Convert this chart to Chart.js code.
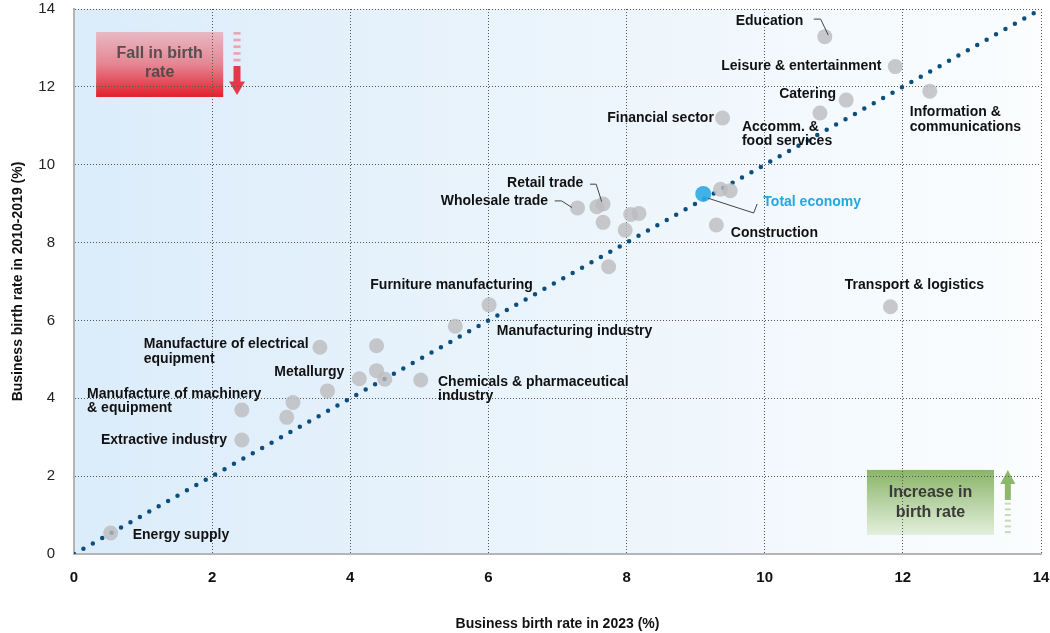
<!DOCTYPE html>
<html>
<head>
<meta charset="utf-8">
<script src="https://cdn.jsdelivr.net/npm/chart.js@4.4.0/dist/chart.umd.min.js"></script>
<style>
	html, body { margin: 0; padding: 0; background: #fff; }
</style>
</head>
<body>
<canvas id="myChart" width="1050" height="633"></canvas>
<script>
//Canvas setup
let myChart = document.getElementById('myChart').getContext('2d')
let fontFamily = '"Liberation Sans", Arial, sans-serif'

//ticks on both axes
let axisTicks = [0, 2, 4, 6, 8, 10, 12, 14]

//sectors: x = birth rate 2023 (%), y = birth rate 2010-2019 (%)
let sectorRate2023 = [0.53, 2.43, 2.43, 3.08, 3.17, 3.67, 3.56, 4.13, 4.38, 4.38, 4.50, 5.02, 5.52, 6.01, 7.74, 7.29, 7.57, 7.66, 7.66, 7.98, 8.06, 8.18, 9.36, 9.50, 9.30, 9.39, 10.87, 11.89, 11.18, 10.80, 12.39, 11.82]
let sectorRate2010 = [0.54, 2.93, 3.70, 3.51, 3.89, 4.19, 5.31, 4.50, 5.35, 4.71, 4.49, 4.47, 5.85, 6.40, 7.38, 8.89, 8.92, 8.99, 8.52, 8.32, 8.72, 8.75, 9.37, 9.33, 8.45, 11.20, 13.29, 12.52, 11.66, 11.33, 11.89, 6.35]

//the whole economy
let totalRate2023 = [9.11]
let totalRate2010 = [9.25]

//line of equal rates
let equalLine = [0, 14]

//label texts (\n = new line)
let labelTexts = [
	'Education', 'Leisure & entertainment', 'Catering', 'Financial sector',
	'Accomm. &\nfood services', 'Information &\ncommunications', 'Retail trade',
	'Wholesale trade', 'Total economy', 'Construction', 'Transport & logistics',
	'Furniture manufacturing', 'Manufacturing industry',
	'Manufacture of electrical\nequipment', 'Metallurgy',
	'Manufacture of machinery\n& equipment', 'Chemicals & pharmaceutical\nindustry',
	'Extractive industry', 'Energy supply'
]
//where each label starts, in axis units (layout only)
let labelSpotX = [9.58, 9.37, 10.21, 7.72, 9.67, 12.10, 6.27, 5.31, 9.98, 9.51, 11.16, 4.29, 6.12, 1.01, 2.90, 0.19, 5.27, 0.39, 0.85]
let labelSpotY = [13.70, 12.52, 11.82, 11.20, 10.97, 11.35, 9.53, 9.07, 9.04, 8.25, 6.91, 6.91, 5.73, 5.39, 4.68, 4.11, 4.42, 2.93, 0.49]

//leader lines, in axis units (layout only)
let leaders = [
	[[10.71, 13.74], [10.81, 13.74], [10.92, 13.33]],
	[[7.47, 9.50], [7.56, 9.50], [7.64, 9.05]],
	[[6.96, 9.07], [7.06, 9.07], [7.21, 8.90]],
	[[9.18, 9.14], [9.84, 8.76], [9.89, 8.99]]
]

let sectorPoints = sectorRate2023.map((v, i) => ({ x: v, y: sectorRate2010[i] }))
let totalPoints = totalRate2023.map((v, i) => ({ x: v, y: totalRate2010[i] }))
let linePoints = equalLine.map((v) => ({ x: v, y: v }))

//background, coloured boxes and arrows
const backdrop = {
	id: 'backdrop',
	beforeDraw(chart) {
		const { ctx, chartArea: a, scales: { x, y } } = chart
		ctx.save()
		let bg = ctx.createLinearGradient(a.left, 0, a.right, 0)
		bg.addColorStop(0, '#dbecfa')
		bg.addColorStop(1, '#fbfdfe')
		ctx.fillStyle = bg
		ctx.fillRect(a.left, a.top, a.right - a.left, a.bottom - a.top)

		//Fall in birth rate
		let l = x.getPixelForValue(0.32), r = x.getPixelForValue(2.16)
		let t = y.getPixelForValue(13.41), b = y.getPixelForValue(11.74)
		let red = ctx.createLinearGradient(0, t, 0, b)
		red.addColorStop(0, '#e8b9c4')
		red.addColorStop(0.5, '#e58592')
		red.addColorStop(1, '#e31f2d')
		ctx.fillStyle = red
		ctx.fillRect(l, t, r - l, b - t)
		ctx.fillStyle = 'rgba(70,70,70,0.9)'
		ctx.font = 'bold 16px ' + fontFamily
		ctx.textAlign = 'center'
		ctx.textBaseline = 'middle'
		ctx.fillText('Fall in birth', (l + r) / 2, t + 22)
		ctx.fillText('rate', (l + r) / 2, t + 41)
		let ax = x.getPixelForValue(2.36)
		ctx.fillStyle = '#eaa6b3'
		for (let k = 0; k < 5; k++) ctx.fillRect(ax - 3.5, t + k * 6.7, 7, 2.7)
		ctx.fillStyle = '#e3394a'
		ctx.fillRect(ax - 3.5, t + 34, 7, 16)
		ctx.beginPath()
		ctx.moveTo(ax - 8, t + 49.5)
		ctx.lineTo(ax + 8, t + 49.5)
		ctx.lineTo(ax, t + 63)
		ctx.closePath()
		ctx.fill()

		//Increase in birth rate
		l = x.getPixelForValue(11.48); r = x.getPixelForValue(13.32)
		t = y.getPixelForValue(2.16); b = y.getPixelForValue(0.49)
		let green = ctx.createLinearGradient(0, t, 0, b)
		green.addColorStop(0, '#89b568')
		green.addColorStop(1, '#e4efdd')
		ctx.fillStyle = green
		ctx.fillRect(l, t, r - l, b - t)
		ctx.fillStyle = '#3a3a3a'
		ctx.fillText('Increase in', (l + r) / 2, t + 23)
		ctx.fillText('birth rate', (l + r) / 2, t + 43)
		ax = x.getPixelForValue(13.52)
		ctx.fillStyle = '#8cb86c'
		ctx.beginPath()
		ctx.moveTo(ax, t)
		ctx.lineTo(ax + 7.5, t + 14)
		ctx.lineTo(ax - 7.5, t + 14)
		ctx.closePath()
		ctx.fill()
		ctx.fillRect(ax - 3, t + 13.5, 6, 16.5)
		ctx.fillStyle = '#c6dcb6'
		for (let k = 0; k < 6; k++) ctx.fillRect(ax - 3, t + 32.7 + k * 5.7, 6, 2)
		ctx.restore()
	}
}

//sector labels and leader lines
const sectorLabels = {
	id: 'sectorLabels',
	afterDatasetsDraw(chart) {
		const { ctx, scales: { x, y } } = chart
		ctx.save()
		ctx.strokeStyle = '#444'
		ctx.lineWidth = 1
		leaders.forEach((pts) => {
			ctx.beginPath()
			pts.forEach((p, k) => {
				let px = x.getPixelForValue(p[0]), py = y.getPixelForValue(p[1])
				k === 0 ? ctx.moveTo(px, py) : ctx.lineTo(px, py)
			})
			ctx.stroke()
		})
		ctx.font = 'bold 14px ' + fontFamily
		ctx.textAlign = 'left'
		ctx.textBaseline = 'middle'
		labelTexts.forEach((txt, i) => {
			ctx.fillStyle = txt === 'Total economy' ? '#27a6e4' : '#111'
			let px = x.getPixelForValue(labelSpotX[i])
			let py = y.getPixelForValue(labelSpotY[i])
			txt.split('\n').forEach((line, k) => ctx.fillText(line, px, py + k * 14.5))
		})
		ctx.restore()
	}
}

let config = {
	type: 'scatter',
	data: {
		datasets: [
			{
				label: 'Total economy',
				data: totalPoints,
				backgroundColor: 'rgba(45,168,228,0.9)',
				borderWidth: 0,
				pointRadius: 8,
				order: 1
			},
			{
				label: 'Sectors',
				data: sectorPoints,
				backgroundColor: 'rgba(188,188,190,0.8)',
				borderWidth: 0,
				pointRadius: 7.5,
				order: 2
			},
			{
				label: 'Equal rates',
				data: linePoints,
				showLine: true,
				pointRadius: 0,
				borderColor: '#0b4f7e',
				borderWidth: 4.5,
				borderDash: [0, 10.8],
				borderCapStyle: 'round',
				order: 3
			}
		]
	},
	options: {
		responsive: false,
		animation: false,
		devicePixelRatio: 1,
		layout: { padding: { top: 9, right: 9, left: 0, bottom: 0 } },
		plugins: {
			legend: { display: false },
			tooltip: { enabled: false }
		},
		scales: {
			x: {
				type: 'linear',
				min: 0,
				max: 14,
				afterBuildTicks: (s) => { s.ticks = axisTicks.map((v) => ({ value: v })) },
				afterFit: (s) => {
					s.height = 79
					s.paddingLeft = 0
					s.paddingRight = 0
				},
				grid: { color: '#555', lineWidth: 1, drawTicks: false },
				border: { color: '#b5b5b5', width: 2, dash: [1, 2] },
				ticks: { padding: 15, color: '#111', font: { family: fontFamily, size: 15, weight: 'bold' } },
				title: {
					display: true,
					text: 'Business birth rate in 2023 (%)',
					color: '#111',
					padding: { top: 1, bottom: 0 },
					font: { family: fontFamily, size: 14, weight: 'bold' }
				}
			},
			y: {
				type: 'linear',
				min: 0,
				max: 14,
				afterBuildTicks: (s) => { s.ticks = axisTicks.map((v) => ({ value: v })) },
				afterFit: (s) => {
					s.width = 74
					s.paddingTop = 0
					s.paddingBottom = 0
				},
				grid: { color: '#555', lineWidth: 1, drawTicks: false },
				border: { color: '#b5b5b5', width: 2, dash: [1, 2] },
				ticks: { padding: 19, color: '#222', font: { family: fontFamily, size: 15 } },
				title: {
					display: true,
					text: 'Business birth rate in 2010-2019 (%)',
					color: '#111',
					padding: { top: 10, bottom: 0 },
					font: { family: fontFamily, size: 14, weight: 'bold' }
				}
			}
		}
	},
	plugins: [backdrop, sectorLabels]
}

let chart = new Chart(myChart, config)
</script>
</body>
</html>
